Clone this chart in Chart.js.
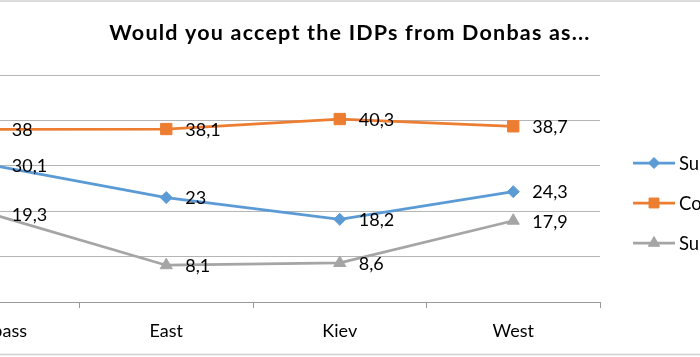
<!DOCTYPE html>
<html>
<head>
<meta charset="utf-8">
<script src="https://cdn.jsdelivr.net/npm/chart.js@4"></script>
<style>
  html, body { margin: 0; padding: 0; background: #fff; overflow: hidden; width: 700px; height: 357px; }
  #wrap { position: relative; width: 700px; height: 357px; overflow: hidden; }
  #c { position: absolute; left: -150px; top: 0; }
</style>
</head>
<body>
<div id="wrap"><canvas id="c" width="960" height="357"></canvas></div>
<script>
const titleText = "Would you accept the IDPs from Donbas as...";
const categories = ["Donbass", "East", "Kiev", "West"];
const seriesNames = ["Subordinate", "Colleague", "Supervisor"];
const subordinateValues = [30.1, 23, 18.2, 24.3];
const colleagueValues = [38, 38.1, 40.3, 38.7];
const supervisorValues = [19.3, 8.1, 8.6, 17.9];
const yTicks = [0, 10, 20, 30, 40, 50];

const OFFSET_X = 150; // canvas shifted left (chart is cropped in reference)
const FONT = "Lato, 'Open Sans', sans-serif";

const colors = ["#5b9bd5", "#ed7d31", "#a5a5a5"];
const styles = ["rectRot", "rect", "triangle"];
const radii = [6, 8, 7];
const legendRadii = [5.5, 7, 6.5];

const framePlugin = {
  id: 'frame',
  beforeDraw(chart) {
    const ctx = chart.ctx;
    ctx.save();
    ctx.fillStyle = '#fff';
    ctx.fillRect(0, 0, chart.width, chart.height);
    ctx.strokeStyle = '#d0d0d0';
    ctx.lineWidth = 1.5;
    ctx.beginPath();
    ctx.moveTo(0, 1); ctx.lineTo(chart.width, 1);
    ctx.moveTo(0, 354.5); ctx.lineTo(chart.width, 354.5);
    ctx.stroke();
    // title
    ctx.fillStyle = '#000';
    ctx.font = "bold 21.5px " + FONT;
    if ('letterSpacing' in ctx) ctx.letterSpacing = '1.2px';
    ctx.textAlign = 'center';
    ctx.textBaseline = 'middle';
    ctx.fillText(titleText, 350 + OFFSET_X, 33);
    ctx.restore();
  }
};

const labelPlugin = {
  id: 'valueLabels',
  afterDatasetsDraw(chart) {
    const ctx = chart.ctx;
    ctx.save();
    ctx.fillStyle = '#000';
    ctx.font = "18px " + FONT;
    ctx.textAlign = 'left';
    ctx.textBaseline = 'middle';
    chart.data.datasets.forEach((ds, i) => {
      const meta = chart.getDatasetMeta(i);
      meta.data.forEach((pt, j) => {
        const v = ds.data[j];
        ctx.fillText(String(v).replace('.', ','), pt.x + 19, pt.y + 1);
      });
    });
    ctx.restore();
  }
};

const legendPlugin = {
  id: 'sideLegend',
  afterDraw(chart) {
    const ctx = chart.ctx;
    const x0 = 633 + OFFSET_X, x1 = 675 + OFFSET_X;
    const yCenter = 203, gap = 40;
    ctx.save();
    chart.data.datasets.forEach((ds, i) => {
      const y = yCenter + (i - 1) * gap;
      ctx.strokeStyle = ds.borderColor;
      ctx.lineWidth = 2.75;
      ctx.beginPath();
      ctx.moveTo(x0, y); ctx.lineTo(x1, y);
      ctx.stroke();
      ctx.fillStyle = ds.borderColor;
      ctx.strokeStyle = ds.borderColor;
      ctx.lineWidth = 1;
      Chart.helpers.drawPoint(ctx, { pointStyle: styles[i], radius: legendRadii[i], borderWidth: 1, rotation: 0 }, (x0 + x1) / 2, y);
      ctx.fillStyle = '#000';
      ctx.font = "18.5px " + FONT;
      ctx.textAlign = 'left';
      ctx.textBaseline = 'middle';
      ctx.fillText(ds.label, x1 + 4, y + 1);
    });
    ctx.restore();
  }
};

const seriesData = [subordinateValues, colleagueValues, supervisorValues];

new Chart(document.getElementById('c'), {
  type: 'line',
  data: {
    labels: categories,
    datasets: seriesData.map((d, i) => ({
      label: seriesNames[i],
      data: d,
      borderColor: colors[i],
      backgroundColor: colors[i],
      borderWidth: 2.75,
      pointStyle: styles[i],
      pointRadius: radii[i],
      pointHoverRadius: radii[i],
      pointBorderWidth: 1,
      tension: 0,
      fill: false
    }))
  },
  options: {
    responsive: false,
    devicePixelRatio: 1,
    animation: false,
    events: [],
    layout: { padding: { left: 0, right: 210, top: 75, bottom: 0 } },
    plugins: {
      legend: { display: false },
      title: { display: false },
      tooltip: { enabled: false }
    },
    scales: {
      x: {
        type: 'category',
        offset: true,
        grid: { offset: true, drawOnChartArea: false, drawTicks: true, tickLength: 6, color: '#999', lineWidth: 1 },
        border: { display: true, color: '#999', width: 1 },
        ticks: { color: '#000', font: { family: FONT, size: 18 }, padding: 12, maxRotation: 0 },
        afterFit(s) { s.height = 55; }
      },
      y: {
        min: 0, max: 50,
        afterBuildTicks(s) { s.ticks = yTicks.map(v => ({ value: v })); },
        grid: { color: '#b5b5b5', lineWidth: 1, drawTicks: false },
        border: { display: false },
        ticks: { color: '#000', font: { family: FONT, size: 18 }, padding: 6 },
        afterFit(s) { s.width = 56; }
      }
    }
  },
  plugins: [framePlugin, labelPlugin, legendPlugin]
});
</script>
</body>
</html>
